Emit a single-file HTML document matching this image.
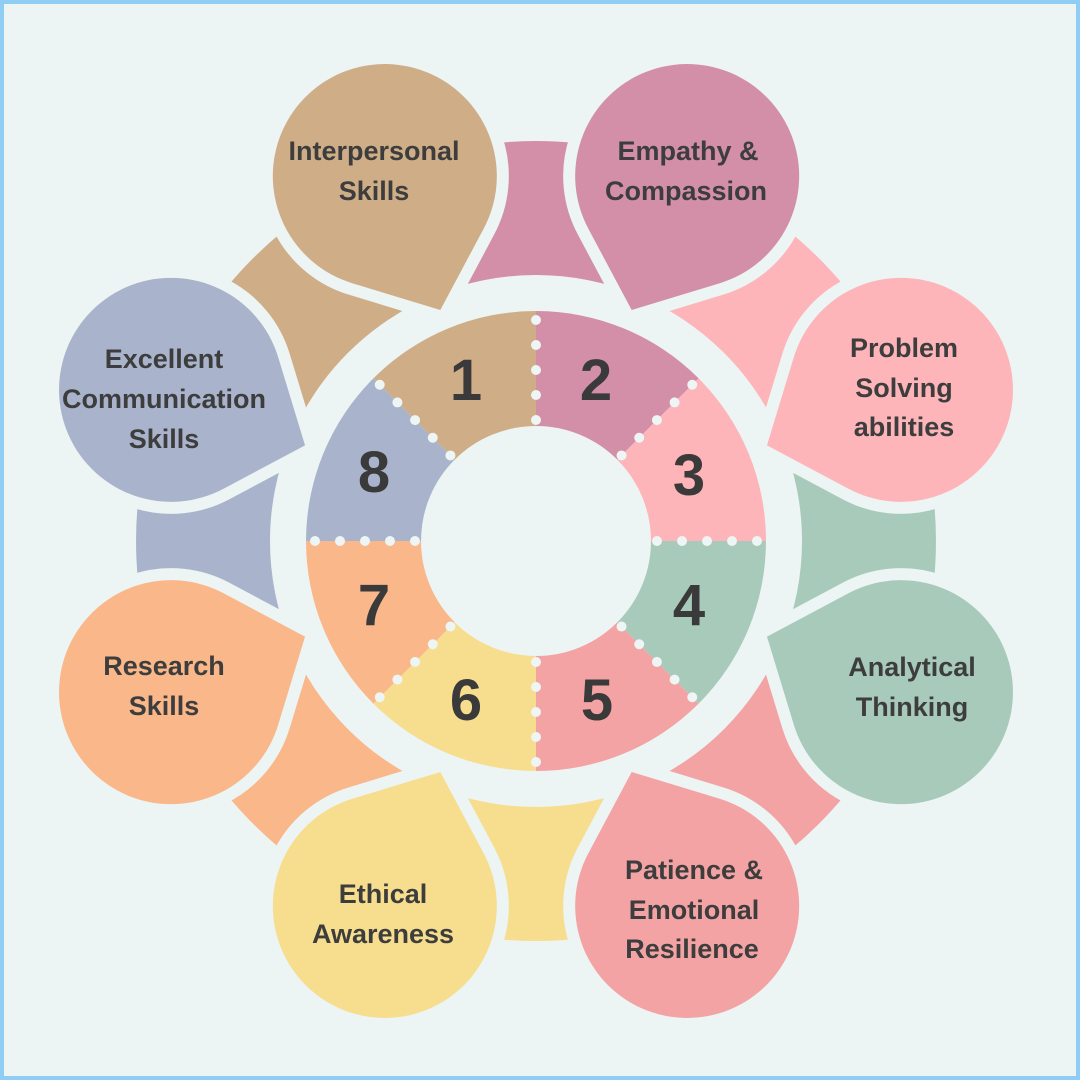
<!DOCTYPE html>
<html><head><meta charset="utf-8"><style>
html,body{margin:0;padding:0;}
body{width:1080px;height:1080px;overflow:hidden;background:#ecf4f4;}
svg{display:block;}
.l{font-family:"Liberation Sans",sans-serif;font-weight:bold;font-size:27px;fill:#3d3d3d;text-anchor:middle;}
.n{font-family:"Liberation Sans",sans-serif;font-weight:bold;font-size:58px;fill:#3a3a3a;text-anchor:middle;}
</style></head><body>
<svg width="1080" height="1080" viewBox="0 0 1080 1080">
<defs>
<path id="sec" d="M347.9,352.9 L253.2,258.2 A400,400 0 0 1 536,141 L536,275 A266,266 0 0 0 347.9,352.9 Z"/>
<path id="pet" d="M536,291 L607.1,232.5 A112,112 0 1 0 464.9,232.5 Z"/>
<path id="seg" d="M454.7,459.7 L373.4,378.4 A230,230 0 0 1 536,311 L536,426 A115,115 0 0 0 454.7,459.7 Z"/>
<g id="dots" fill="#eef5f5"><circle cx="536" cy="320" r="5"/><circle cx="536" cy="345" r="5"/><circle cx="536" cy="370" r="5"/><circle cx="536" cy="395" r="5"/><circle cx="536" cy="420" r="5"/></g>
</defs>
<rect x="2" y="2" width="1076" height="1076" fill="#ecf4f4" stroke="#90cdf5" stroke-width="4"/>
<use href="#sec" fill="#cfae87" transform="rotate(-22.5 536 541)"/>
<use href="#sec" fill="#d48fa8" transform="rotate(22.5 536 541)"/>
<use href="#sec" fill="#fdb5ba" transform="rotate(67.5 536 541)"/>
<use href="#sec" fill="#a8cabb" transform="rotate(112.5 536 541)"/>
<use href="#sec" fill="#f4a3a5" transform="rotate(157.5 536 541)"/>
<use href="#sec" fill="#f7de8e" transform="rotate(202.5 536 541)"/>
<use href="#sec" fill="#f9b78a" transform="rotate(247.5 536 541)"/>
<use href="#sec" fill="#a9b4cc" transform="rotate(292.5 536 541)"/>
<g stroke="#ecf4f4" stroke-width="24" stroke-linejoin="round">
<use href="#pet" fill="#cfae87" transform="rotate(-22.5 536 541)"/>
<use href="#pet" fill="#d48fa8" transform="rotate(22.5 536 541)"/>
<use href="#pet" fill="#fdb5ba" transform="rotate(67.5 536 541)"/>
<use href="#pet" fill="#a8cabb" transform="rotate(112.5 536 541)"/>
<use href="#pet" fill="#f4a3a5" transform="rotate(157.5 536 541)"/>
<use href="#pet" fill="#f7de8e" transform="rotate(202.5 536 541)"/>
<use href="#pet" fill="#f9b78a" transform="rotate(247.5 536 541)"/>
<use href="#pet" fill="#a9b4cc" transform="rotate(292.5 536 541)"/>
</g>
<g>
<use href="#pet" fill="#cfae87" transform="rotate(-22.5 536 541)"/>
<use href="#pet" fill="#d48fa8" transform="rotate(22.5 536 541)"/>
<use href="#pet" fill="#fdb5ba" transform="rotate(67.5 536 541)"/>
<use href="#pet" fill="#a8cabb" transform="rotate(112.5 536 541)"/>
<use href="#pet" fill="#f4a3a5" transform="rotate(157.5 536 541)"/>
<use href="#pet" fill="#f7de8e" transform="rotate(202.5 536 541)"/>
<use href="#pet" fill="#f9b78a" transform="rotate(247.5 536 541)"/>
<use href="#pet" fill="#a9b4cc" transform="rotate(292.5 536 541)"/>
</g>
<use href="#seg" fill="#cfae87"/>
<use href="#seg" fill="#d48fa8" transform="rotate(45 536 541)"/>
<use href="#seg" fill="#fdb5ba" transform="rotate(90 536 541)"/>
<use href="#seg" fill="#a8cabb" transform="rotate(135 536 541)"/>
<use href="#seg" fill="#f4a3a5" transform="rotate(180 536 541)"/>
<use href="#seg" fill="#f7de8e" transform="rotate(225 536 541)"/>
<use href="#seg" fill="#f9b78a" transform="rotate(270 536 541)"/>
<use href="#seg" fill="#a9b4cc" transform="rotate(315 536 541)"/>
<use href="#dots"/>
<use href="#dots" transform="rotate(45 536 541)"/>
<use href="#dots" transform="rotate(90 536 541)"/>
<use href="#dots" transform="rotate(135 536 541)"/>
<use href="#dots" transform="rotate(180 536 541)"/>
<use href="#dots" transform="rotate(225 536 541)"/>
<use href="#dots" transform="rotate(270 536 541)"/>
<use href="#dots" transform="rotate(315 536 541)"/>
<text class="n" x="466" y="400">1</text>
<text class="n" x="596" y="400">2</text>
<text class="n" x="689" y="495">3</text>
<text class="n" x="689" y="625">4</text>
<text class="n" x="597" y="720">5</text>
<text class="n" x="466" y="720">6</text>
<text class="n" x="374" y="625">7</text>
<text class="n" x="374" y="492">8</text>
<text class="l" x="374" y="160">Interpersonal</text>
<text class="l" x="374" y="200">Skills</text>
<text class="l" x="688" y="160">Empathy &amp;</text>
<text class="l" x="686" y="200">Compassion</text>
<text class="l" x="904" y="357">Problem</text>
<text class="l" x="904" y="397">Solving</text>
<text class="l" x="904" y="436">abilities</text>
<text class="l" x="912" y="676">Analytical</text>
<text class="l" x="912" y="716">Thinking</text>
<text class="l" x="694" y="879">Patience &amp;</text>
<text class="l" x="694" y="919">Emotional</text>
<text class="l" x="692" y="958">Resilience</text>
<text class="l" x="383" y="903">Ethical</text>
<text class="l" x="383" y="943">Awareness</text>
<text class="l" x="164" y="675">Research</text>
<text class="l" x="164" y="715">Skills</text>
<text class="l" x="164" y="368">Excellent</text>
<text class="l" x="164" y="408">Communication</text>
<text class="l" x="164" y="448">Skills</text>
</svg>
</body></html>
